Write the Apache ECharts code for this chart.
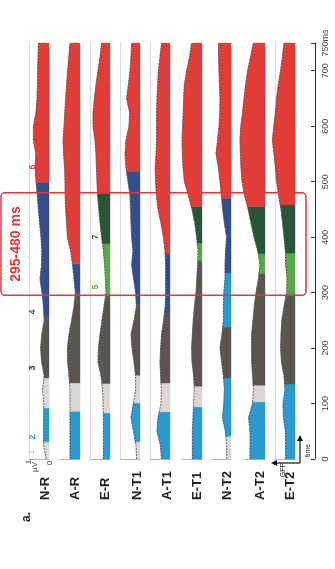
<!DOCTYPE html>
<html>
<head>
<meta charset="utf-8">
<script src="https://cdn.jsdelivr.net/npm/echarts@6/dist/echarts.min.js"></script>
<style>
  html, body { margin: 0; padding: 0; background: #fff; }
  #chart { width: 335px; height: 569px; }
</style>
</head>
<body>
<div id="chart"></div>
<script>
// time samples (ms) for the GFP traces
const times = [0, 25, 50, 75, 100, 125, 150, 175, 200, 225, 250, 275, 300, 325, 350, 375, 400, 425, 450, 475, 500, 525, 550, 575, 600, 625, 650, 675, 700, 725, 750];
const rowNames = ['N-R', 'A-R', 'E-R', 'N-T1', 'A-T1', 'E-T1', 'N-T2', 'A-T2', 'E-T2'];

// GFP (µV) per condition
const gfpNR = [0.15, 0.27, 0.28, 0.27, 0.26, 0.33, 0.24, 0.37, 0.42, 0.36, 0.24, 0.28, 0.35, 0.45, 0.37, 0.36, 0.4, 0.47, 0.53, 0.58, 0.65, 0.7, 0.66, 0.78, 0.78, 0.65, 0.6, 0.58, 0.57, 0.55, 0.53];
const gfpAR = [0.5, 0.5, 0.5, 0.5, 0.5, 0.5, 0.55, 0.62, 0.63, 0.55, 0.42, 0.3, 0.23, 0.3, 0.37, 0.47, 0.63, 0.67, 0.72, 0.74, 0.75, 0.77, 0.82, 0.85, 0.8, 0.76, 0.72, 0.67, 0.62, 0.56, 0.5];
const gfpER = [0.33, 0.33, 0.33, 0.33, 0.35, 0.37, 0.45, 0.6, 0.58, 0.5, 0.4, 0.3, 0.2, 0.23, 0.27, 0.33, 0.42, 0.5, 0.56, 0.62, 0.65, 0.68, 0.7, 0.75, 0.85, 0.85, 0.78, 0.7, 0.6, 0.5, 0.42];
const gfpNT1 = [0.17, 0.2, 0.33, 0.45, 0.33, 0.22, 0.22, 0.3, 0.4, 0.45, 0.3, 0.18, 0.22, 0.32, 0.42, 0.35, 0.42, 0.45, 0.47, 0.5, 0.6, 0.7, 0.75, 0.7, 0.55, 0.52, 0.67, 0.58, 0.5, 0.45, 0.42];
const gfpAT1 = [0.42, 0.48, 0.65, 0.6, 0.45, 0.43, 0.47, 0.5, 0.47, 0.42, 0.32, 0.24, 0.22, 0.22, 0.22, 0.25, 0.33, 0.45, 0.6, 0.68, 0.72, 0.74, 0.7, 0.67, 0.67, 0.67, 0.65, 0.62, 0.58, 0.5, 0.42];
const gfpET1 = [0.48, 0.48, 0.48, 0.45, 0.42, 0.38, 0.42, 0.5, 0.52, 0.48, 0.44, 0.38, 0.3, 0.26, 0.22, 0.2, 0.27, 0.36, 0.5, 0.68, 0.88, 0.95, 0.98, 1.0, 0.97, 0.94, 0.92, 0.88, 0.77, 0.62, 0.52];
const gfpNT2 = [0.22, 0.22, 0.28, 0.43, 0.36, 0.33, 0.38, 0.47, 0.55, 0.45, 0.38, 0.38, 0.36, 0.3, 0.3, 0.27, 0.22, 0.33, 0.42, 0.48, 0.55, 0.63, 0.75, 0.67, 0.6, 0.56, 0.55, 0.58, 0.6, 0.62, 0.63];
const gfpAT2 = [0.75, 0.75, 0.75, 0.82, 0.62, 0.58, 0.62, 0.67, 0.67, 0.67, 0.6, 0.54, 0.45, 0.33, 0.25, 0.36, 0.55, 0.7, 0.84, 1.02, 1.15, 1.2, 1.23, 1.25, 1.21, 1.12, 1.05, 0.97, 0.87, 0.72, 0.58];
const gfpET2 = [0.47, 0.47, 0.48, 0.58, 0.6, 0.5, 0.55, 0.68, 0.72, 0.7, 0.66, 0.55, 0.42, 0.4, 0.47, 0.48, 0.55, 0.62, 0.7, 0.82, 0.92, 0.98, 1.05, 1.13, 1.06, 0.98, 0.92, 0.84, 0.72, 0.63, 0.55];

// microstate segments: [start ms, end ms, map]
const segNR = [[0, 31, 1], [31, 92, 2], [92, 146, 1], [146, 255, 3], [255, 499, 4], [499, 750, 6]];
const segAR = [[0, 86, 2], [86, 137, 1], [137, 303, 3], [303, 352, 4], [352, 750, 6]];
const segER = [[0, 83, 2], [83, 136, 1], [136, 296, 3], [296, 388, 5], [388, 479, 7], [479, 750, 6]];
const segNT1 = [[0, 31, 1], [31, 101, 2], [101, 151, 1], [151, 279, 3], [279, 519, 4], [519, 750, 6]];
const segAT1 = [[0, 85, 2], [85, 137, 1], [137, 265, 3], [265, 371, 4], [371, 750, 6]];
const segET1 = [[0, 94, 2], [94, 131, 1], [131, 357, 3], [357, 389, 5], [389, 455, 7], [455, 750, 6]];
const segNT2 = [[0, 41, 1], [41, 146, 2], [146, 238, 3], [238, 335, 2], [335, 470, 4], [470, 750, 6]];
const segAT2 = [[0, 103, 2], [103, 133, 1], [133, 335, 3], [335, 370, 5], [370, 455, 7], [455, 750, 6]];
const segET2 = [[0, 135, 2], [135, 296, 3], [296, 371, 5], [371, 458, 7], [458, 750, 6]];

const window_ = [295, 480];
const timeTicks = [0, 100, 200, 300, 400, 500, 600, 700, 750];

const gfps = [gfpNR, gfpAR, gfpER, gfpNT1, gfpAT1, gfpET1, gfpNT2, gfpAT2, gfpET2];
const segs = [segNR, segAR, segER, segNT1, segAT1, segET1, segNT2, segAT2, segET2];

const mapColors = {
  1: '#dcd6d2', 2: '#2999cf', 3: '#5b5550', 4: '#344f8f',
  5: '#58a84a', 6: '#e03c38', 7: '#2a5638'
};

// panel layout (baseline = 0 µV at the right edge)
const baseX = [49, 80, 110, 140, 170, 202, 231, 265, 295];
const leftLine = [true, false, true, true, true, false, false, false, true];
const TOP = 43, H = 416, W = 20;

function ampAt(gfp, t) {
  let k = 0;
  while (k < times.length - 2 && times[k + 1] <= t) k++;
  const f = (t - times[k]) / (times[k + 1] - times[k]);
  return gfp[k] + (gfp[k + 1] - gfp[k]) * f;
}

const myChart = echarts.init(document.getElementById('chart'));

const grid = [], xAxis = [], yAxis = [], series = [];
baseX.forEach((bx, i) => {
  grid.push({ left: bx - W, top: TOP, width: W, height: H });
  xAxis.push({
    gridIndex: i, type: 'value', min: 0, max: 1, inverse: true,
    axisLine: { show: true, onZero: false, lineStyle: { color: '#b5b0ac', width: 1 } },
    axisTick: { show: false }, axisLabel: { show: false }, splitLine: { show: false }
  });
  yAxis.push({
    gridIndex: i, type: 'value', min: 0, max: 750, position: 'left',
    axisLine: { show: leftLine[i], onZero: false, lineStyle: { color: '#dcd8d5', width: 1 } },
    axisTick: { show: false }, axisLabel: { show: false }, splitLine: { show: false }
  });
  const gfp = gfps[i];
  series.push({
    type: 'custom',
    xAxisIndex: i, yAxisIndex: i,
    data: segs[i],
    renderItem(params, api) {
      const t0 = api.value(0), t1 = api.value(1), m = api.value(2);
      const edge = [[ampAt(gfp, t0), t0]];
      times.forEach((t, k) => { if (t > t0 && t < t1) edge.push([gfp[k], t]); });
      edge.push([ampAt(gfp, t1), t1]);
      const edgePx = edge.map(p => api.coord(p));
      const poly = [api.coord([0, t0])].concat(edgePx, [api.coord([0, t1])]);
      return {
        type: 'group',
        children: [
          { type: 'polygon', shape: { points: poly }, style: { fill: mapColors[m], stroke: mapColors[m], lineWidth: 0.4 } },
          { type: 'polyline', shape: { points: edgePx }, style: { fill: null, stroke: '#4a4744', lineWidth: 0.8, lineDash: [2, 1] } }
        ]
      };
    }
  });
});

// overlay grid for the analysis window box
grid.push({ left: 1, top: TOP, width: 305, height: H });
xAxis.push({ gridIndex: 9, type: 'value', min: 0, max: 1, show: false });
yAxis.push({ gridIndex: 9, type: 'value', min: 0, max: 750, show: false });
series.push({
  type: 'custom', xAxisIndex: 9, yAxisIndex: 9,
  data: [window_],
  z: 5,
  renderItem(params, api) {
    const a = api.coord([0, api.value(1)]);
    const b = api.coord([1, api.value(0)]);
    return {
      type: 'rect',
      shape: { x: a[0], y: a[1], width: b[0] - a[0], height: b[1] - a[1], r: 4 },
      style: { fill: null, stroke: '#e0393a', lineWidth: 1.5 }
    };
  }
});

// time axis
grid.push({ left: 315, top: TOP, width: 1, height: H });
xAxis.push({ gridIndex: 10, type: 'value', show: false });
yAxis.push({
  gridIndex: 10, type: 'value', min: 0, max: 750, position: 'right',
  axisLine: { show: true, lineStyle: { color: '#333', width: 1 } },
  axisTick: { show: true, inside: true, length: 4, customValues: timeTicks, lineStyle: { color: '#333' } },
  axisLabel: {
    customValues: timeTicks, rotate: 90, fontSize: 9, color: '#444', margin: 5,
    fontFamily: 'Liberation Sans',
    formatter: v => (v === 750 ? '750ms' : String(v))
  },
  splitLine: { show: false }
});

const txt = (x, y, text, opt) => ({
  type: 'text', x, y, rotation: Math.PI / 2, z: 10,
  style: Object.assign({
    text, fill: '#222', font: 'bold 13px "Liberation Sans", Arial',
    align: 'left', verticalAlign: 'middle', textAlign: 'left', textVerticalAlign: 'middle'
  }, opt || {})
});

const labelX = [45, 75, 105, 137, 167, 197, 227, 260, 290];
const graphic = rowNames.map((n, i) => txt(labelX[i], 500, n));
graphic.push(txt(27, 522, 'a.', { font: 'bold 12px "Liberation Sans", Arial' }));
graphic.push(txt(16, 244, '295-480 ms', { fill: '#e0393a', font: 'bold 14px "Liberation Sans", Arial', align: 'center', textAlign: 'center' }));
// µV scale
graphic.push(txt(29, 462, '1', { font: '8px "Liberation Sans", Arial', fill: '#333', align: 'center', textAlign: 'center' }));
graphic.push(txt(35, 467, 'µV', { font: '8px "Liberation Sans", Arial', fill: '#333', align: 'center', textAlign: 'center' }));
graphic.push(txt(50, 463, '0', { font: '8px "Liberation Sans", Arial', fill: '#333', align: 'center', textAlign: 'center' }));
// map numbers
const num = (x, y, s, c) => txt(x, y, s, { font: 'bold 9px "Liberation Sans", Arial', fill: c, align: 'center', textAlign: 'center' });
graphic.push(num(32, 452, '1', '#cfc9c4'));
graphic.push(num(33, 437, '2', mapColors[2]));
graphic.push(num(33, 368, '3', '#333'));
graphic.push(num(33, 312, '4', mapColors[4]));
graphic.push(num(33, 167, '6', mapColors[6]));
graphic.push(num(96, 287, '5', mapColors[5]));
graphic.push(num(96, 237, '7', mapColors[7]));
// GFP / time arrows
graphic.push({ type: 'line', shape: { x1: 300, y1: 463, x2: 300, y2: 440 }, style: { stroke: '#111', lineWidth: 1.2 }, z: 10 });
graphic.push({ type: 'polygon', shape: { points: [[297, 441], [303, 441], [300, 435]] }, style: { fill: '#111' }, z: 10 });
graphic.push({ type: 'line', shape: { x1: 300, y1: 463, x2: 276, y2: 463 }, style: { stroke: '#111', lineWidth: 1.2 }, z: 10 });
graphic.push({ type: 'polygon', shape: { points: [[277, 460], [277, 466], [271, 463]] }, style: { fill: '#111' }, z: 10 });
graphic.push(txt(308, 457, 'time', { font: '7px "Liberation Sans", Arial', fill: '#222', align: 'left', textAlign: 'left' }));
graphic.push(txt(283, 470, 'GFP', { font: '7px "Liberation Sans", Arial', fill: '#222', align: 'center', textAlign: 'center' }));

myChart.setOption({
  animation: false,
  grid, xAxis, yAxis, series, graphic
});
</script>
</body>
</html>
